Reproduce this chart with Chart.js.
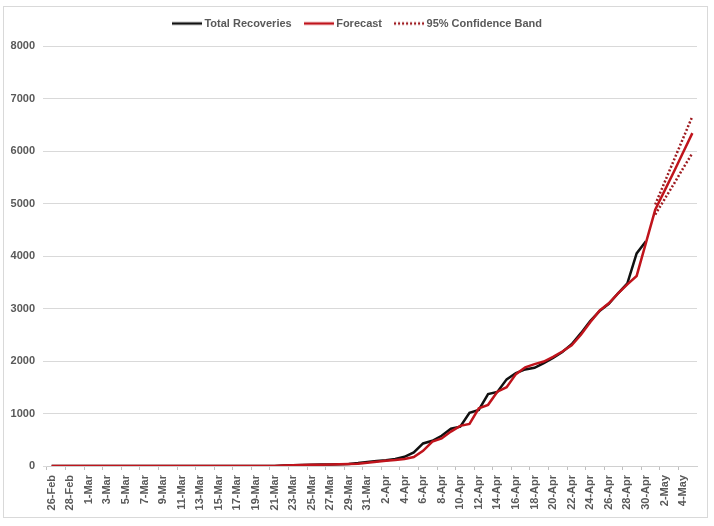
<!DOCTYPE html>
<html><head><meta charset="utf-8">
<script src="https://cdn.jsdelivr.net/npm/chart.js@4.4.1/dist/chart.umd.min.js"></script>
<style>html,body{margin:0;padding:0;background:#fff;}#wrap{position:relative;width:714px;height:526px;}</style>
</head><body><div id="wrap"><canvas id="c" width="714" height="526"></canvas></div>
<script>
const dates = [
 '26-Feb','27-Feb','28-Feb','29-Feb',
 '1-Mar','2-Mar','3-Mar','4-Mar','5-Mar','6-Mar','7-Mar','8-Mar','9-Mar','10-Mar',
 '11-Mar','12-Mar','13-Mar','14-Mar','15-Mar','16-Mar','17-Mar','18-Mar','19-Mar','20-Mar',
 '21-Mar','22-Mar','23-Mar','24-Mar','25-Mar','26-Mar','27-Mar','28-Mar','29-Mar','30-Mar','31-Mar',
 '1-Apr','2-Apr','3-Apr','4-Apr','5-Apr','6-Apr','7-Apr','8-Apr','9-Apr','10-Apr',
 '11-Apr','12-Apr','13-Apr','14-Apr','15-Apr','16-Apr','17-Apr','18-Apr','19-Apr','20-Apr',
 '21-Apr','22-Apr','23-Apr','24-Apr','25-Apr','26-Apr','27-Apr','28-Apr','29-Apr','30-Apr',
 '1-May','2-May','3-May','4-May','5-May'
];
const totalRecoveries = [
 0,0,0,0,
 0,0,0,0,0,0,0,0,0,0,
 0,0,0,0,0,0,0,0,0,0,
 2,10,15,20,25,28,30,35,40,55,75,
 95,110,135,175,260,430,480,575,710,750,
 1015,1070,1370,1410,1650,1770,1840,1870,1960,2060,
 2170,2320,2530,2760,2950,3090,3290,3480,4050,4280,
 null,null,null,null,null
];
const forecast = [
 0,0,0,0,
 0,0,0,0,0,0,0,0,0,0,
 0,0,0,0,0,0,0,0,0,0,
 2,8,12,17,22,26,30,33,38,45,60,
 80,100,115,135,170,290,465,525,655,765,
 800,1100,1165,1415,1500,1750,1880,1940,1990,2080,
 2180,2300,2500,2740,2960,3100,3290,3460,3620,4250,
 4880,5240,5600,5970,6340
];
const upperBand = [
 null,null,null,null,
 null,null,null,null,null,null,null,null,null,null,
 null,null,null,null,null,null,null,null,null,null,
 null,null,null,null,null,null,null,null,null,null,null,
 null,null,null,null,null,null,null,null,null,null,
 null,null,null,null,null,null,null,null,null,null,
 null,null,null,null,null,null,null,null,null,null,
 4980,5400,5820,6240,6660
];
const lowerBand = [
 null,null,null,null,
 null,null,null,null,null,null,null,null,null,null,
 null,null,null,null,null,null,null,null,null,null,
 null,null,null,null,null,null,null,null,null,null,null,
 null,null,null,null,null,null,null,null,null,null,
 null,null,null,null,null,null,null,null,null,null,
 null,null,null,null,null,null,null,null,null,null,
 4790,5080,5370,5670,5960
];
const yTicks = [0,1000,2000,3000,4000,5000,6000,7000,8000];

const FONT = 'Liberation Sans, Arial, sans-serif';
const GREY = '#595959';

function makeSample(color, dash, width) {
  const cv = document.createElement('canvas');
  cv.width = 30; cv.height = 8;
  const c = cv.getContext('2d');
  c.strokeStyle = color;
  c.lineWidth = width;
  c.setLineDash(dash || []);
  c.beginPath();
  c.moveTo(0, 4);
  c.lineTo(30, 4);
  c.stroke();
  return cv;
}

const frame = {
  id: 'frame',
  beforeInit(chart) {
    const lg = chart.legend;
    if (lg) {
      const orig = lg.fit;
      lg.fit = function () {
        orig.call(this);
        this.height = 43;
        if (this.lineWidths && this.lineWidths.length) this.lineWidths[0] -= 20;
      };
    }
  },
  beforeDraw(chart) {
    const c = chart.ctx;
    c.save();
    c.fillStyle = '#fff';
    c.fillRect(0, 0, chart.width, chart.height);
    c.strokeStyle = '#d9d9d9';
    c.lineWidth = 1;
    c.strokeRect(3.5, 6.5, 704, 511);
    c.restore();
  }
};

new Chart(document.getElementById('c'), {
  type: 'line',
  data: {
    labels: dates,
    datasets: [
      { label: 'Total Recoveries', data: totalRecoveries, borderColor: '#111111', backgroundColor: '#111111', borderWidth: 2.5, pointRadius: 0, tension: 0, order: 3 },
      { label: 'Forecast', data: forecast, borderColor: '#c0141c', backgroundColor: '#c0141c', borderWidth: 2.5, pointRadius: 0, tension: 0, order: 1 },
      { label: '95% Confidence Band', data: upperBand, borderColor: '#9e1b20', backgroundColor: '#9e1b20', borderWidth: 2.5, borderDash: [2, 2], pointRadius: 0, tension: 0, order: 0 },
      { label: 'lower', data: lowerBand, borderColor: '#9e1b20', backgroundColor: '#9e1b20', borderWidth: 2.5, borderDash: [2, 2], pointRadius: 0, tension: 0, order: 0 }
    ]
  },
  options: {
    responsive: false,
    animation: false,
    devicePixelRatio: 1,
    layout: { padding: { left: 0, right: 17, top: 3, bottom: 0 } },
    plugins: {
      tooltip: { enabled: false },
      legend: {
        position: 'top',
        labels: {
          usePointStyle: true,
          pointStyleWidth: 24,
          boxWidth: 24,
          padding: 15,
          color: GREY,
          font: { family: FONT, size: 11, weight: 'bold' },
          generateLabels: (chart) => {
            const items = Chart.defaults.plugins.legend.labels.generateLabels(chart);
            return items.map(it => {
              const ds = chart.data.datasets[it.datasetIndex];
              return Object.assign({}, it, {
                pointStyle: makeSample(ds.borderColor, ds.borderDash, 2.5)
              });
            });
          },
          filter: (item) => item.datasetIndex !== 3,
          sort: (a, b) => a.datasetIndex - b.datasetIndex
        }
      }
    },
    scales: {
      x: {
        offset: true,
        afterFit: (s) => { s.height = 60; },
        grid: {
          drawOnChartArea: false,
          drawTicks: true,
          tickLength: 4,
          offset: true,
          color: (ctx) => (ctx.index % 2 === 0 ? '#bfbfbf' : 'rgba(0,0,0,0)')
        },
        border: { display: true, color: '#d0d0d0', width: 1 },
        ticks: {
          autoSkip: false,
          minRotation: 90,
          maxRotation: 90,
          padding: 5,
          color: GREY,
          font: { family: FONT, size: 11, weight: 'bold' },
          callback: (v, i) => (i % 2 === 0 ? dates[i] : '')
        }
      },
      y: {
        min: 0,
        max: 8000,
        afterFit: (s) => { s.width = 47; },
        afterBuildTicks: (s) => { s.ticks = yTicks.map(v => ({ value: v })); },
        grid: { color: '#d9d9d9', lineWidth: 1, drawTicks: true, tickLength: 4, tickColor: '#d9d9d9' },
        border: { display: false },
        ticks: {
          padding: 8,
          color: GREY,
          font: { family: FONT, size: 11, weight: 'bold' },
          callback: (v) => String(v)
        }
      }
    }
  },
  plugins: [frame]
});
</script>
</body></html>
